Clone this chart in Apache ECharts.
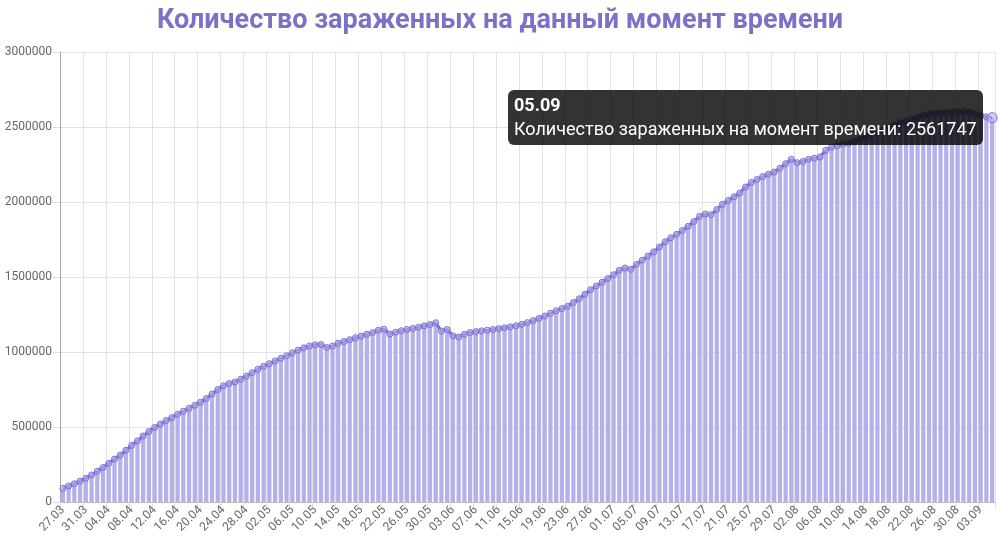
<!DOCTYPE html>
<html>
<head>
<meta charset="utf-8">
<script src="https://cdn.jsdelivr.net/npm/echarts@6/dist/echarts.min.js"></script>
<style>
html,body{margin:0;padding:0;background:#fff;}
#chart{width:1000px;height:542px;}
</style>
</head>
<body>
<div id="chart"></div>
<script>
const titleText = 'Количество зараженных на данный момент времени';
const seriesName = 'Количество зараженных на момент времени';

const categories = [
'27.03','28.03','29.03','30.03','31.03',
'01.04','02.04','03.04','04.04','05.04','06.04','07.04','08.04','09.04','10.04',
'11.04','12.04','13.04','14.04','15.04','16.04','17.04','18.04','19.04','20.04',
'21.04','22.04','23.04','24.04','25.04','26.04','27.04','28.04','29.04','30.04',
'01.05','02.05','03.05','04.05','05.05','06.05','07.05','08.05','09.05','10.05',
'11.05','12.05','13.05','14.05','15.05','16.05','17.05','18.05','19.05','20.05',
'21.05','22.05','23.05','24.05','25.05','26.05','27.05','28.05','29.05','30.05','31.05',
'01.06','02.06','03.06','04.06','05.06','06.06','07.06','08.06','09.06','10.06',
'11.06','12.06','13.06','14.06','15.06','16.06','17.06','18.06','19.06','20.06',
'21.06','22.06','23.06','24.06','25.06','26.06','27.06','28.06','29.06','30.06',
'01.07','02.07','03.07','04.07','05.07','06.07','07.07','08.07','09.07','10.07',
'11.07','12.07','13.07','14.07','15.07','16.07','17.07','18.07','19.07','20.07',
'21.07','22.07','23.07','24.07','25.07','26.07','27.07','28.07','29.07','30.07','31.07',
'01.08','02.08','03.08','04.08','05.08','06.08','07.08','08.08','09.08','10.08',
'11.08','12.08','13.08','14.08','15.08','16.08','17.08','18.08','19.08','20.08',
'21.08','22.08','23.08','24.08','25.08','26.08','27.08','28.08','29.08','30.08','31.08',
'01.09','02.09','03.09','04.09','05.09'
];

const infected = [
91000,107000,122000,139000,158000,180000,205000,230000,258000,286000,
313000,345000,378000,408000,440000,470000,497000,520000,543000,563000,
585000,605000,625000,645000,665000,690000,720000,750000,775000,790000,
800000,818000,840000,862000,885000,905000,922000,940000,958000,975000,
995000,1012000,1028000,1040000,1048000,1050000,1030000,1040000,1058000,1070000,
1082000,1095000,1106000,1118000,1130000,1145000,1152000,1120000,1132000,1142000,
1150000,1157000,1165000,1175000,1183000,1195000,1140000,1150000,1108000,1100000,
1118000,1130000,1136000,1141000,1145000,1150000,1156000,1162000,1168000,1175000,
1185000,1196000,1210000,1224000,1240000,1258000,1275000,1290000,1305000,1330000,
1355000,1385000,1415000,1440000,1465000,1490000,1515000,1545000,1560000,1551000,
1585000,1612000,1640000,1668000,1700000,1735000,1762000,1785000,1810000,1838000,
1870000,1905000,1920000,1915000,1950000,1985000,2010000,2035000,2060000,2100000,
2130000,2150000,2170000,2185000,2200000,2225000,2255000,2285000,2262000,2270000,
2285000,2292000,2300000,2345000,2365000,2375000,2385000,2392000,2405000,2420000,
2438000,2452000,2465000,2480000,2496000,2512000,2528000,2540000,2552000,2565000,
2578000,2588000,2592000,2595000,2597000,2599000,2601000,2603000,2598000,2588000,
2578000,2568000,2561747
];

const yMin = 0, yMax = 3000000, yStep = 500000;
const tipIndex = infected.length - 1;

const chart = echarts.init(document.getElementById('chart'), null, {renderer:'canvas'});
const lineData = infected.map((v,i) => i === tipIndex ? {value:v, symbolSize:10} : v);

chart.setOption({
  animation:false,
  title:{
    text:titleText, left:'center', top:3,
    textStyle:{color:'#7a71c9', fontSize:27, fontWeight:'bold', fontFamily:'Roboto'}
  },
  grid:{left:60, right:5, top:52, bottom:40, containLabel:false},
  tooltip:{
    trigger:'item', triggerOn:'none', alwaysShowContent:true,
    position:[508, 90], transitionDuration:0,
    backgroundColor:'rgba(0,0,0,0.8)', borderWidth:0, padding:[3,6,4,6],
    extraCssText:'border-radius:6px;box-shadow:none;',
    textStyle:{color:'#fff', fontSize:18, fontFamily:'Roboto'},
    formatter:function(p){
      return '<div style="font-weight:bold;line-height:24px;font-size:18px;">'+categories[p.dataIndex]+'</div>'+
             '<div style="line-height:24px;font-size:18px;">'+seriesName+': '+infected[p.dataIndex]+'</div>';
    }
  },
  xAxis:{
    type:'category', data:categories, boundaryGap:true,
    axisLine:{lineStyle:{color:'#bdbdbd'}},
    axisTick:{show:true, interval:3, length:6, lineStyle:{color:'#dcdcdc'}},
    splitLine:{show:true, interval:3, lineStyle:{color:'#e3e3e3'}},
    axisLabel:{interval:3, rotate:45, color:'#666', fontSize:12, fontFamily:'Roboto', margin:6}
  },
  yAxis:{
    type:'value', min:yMin, max:yMax, interval:yStep,
    axisLine:{show:true, lineStyle:{color:'#a8a8a8'}},
    axisTick:{show:true, length:7, lineStyle:{color:'#dcdcdc'}},
    splitLine:{show:true, lineStyle:{color:'#e3e3e3'}},
    axisLabel:{color:'#666', fontSize:12, fontFamily:'Roboto', margin:8, formatter:v => String(v)}
  },
  series:[
    {
      type:'bar', name:seriesName, data:infected, barCategoryGap:'26%',
      itemStyle:{color:'#b4b0ea'}, silent:true
    },
    {
      type:'line', name:seriesName, data:lineData,
      symbol:'circle', symbolSize:6, showAllSymbol:true,
      lineStyle:{color:'#7a6fd2', width:3},
      itemStyle:{color:'rgba(180,176,234,0.6)', borderColor:'#7a6fd2', borderWidth:1}
    }
  ]
});
chart.dispatchAction({type:'showTip', seriesIndex:1, dataIndex:tipIndex});
</script>
</body>
</html>
